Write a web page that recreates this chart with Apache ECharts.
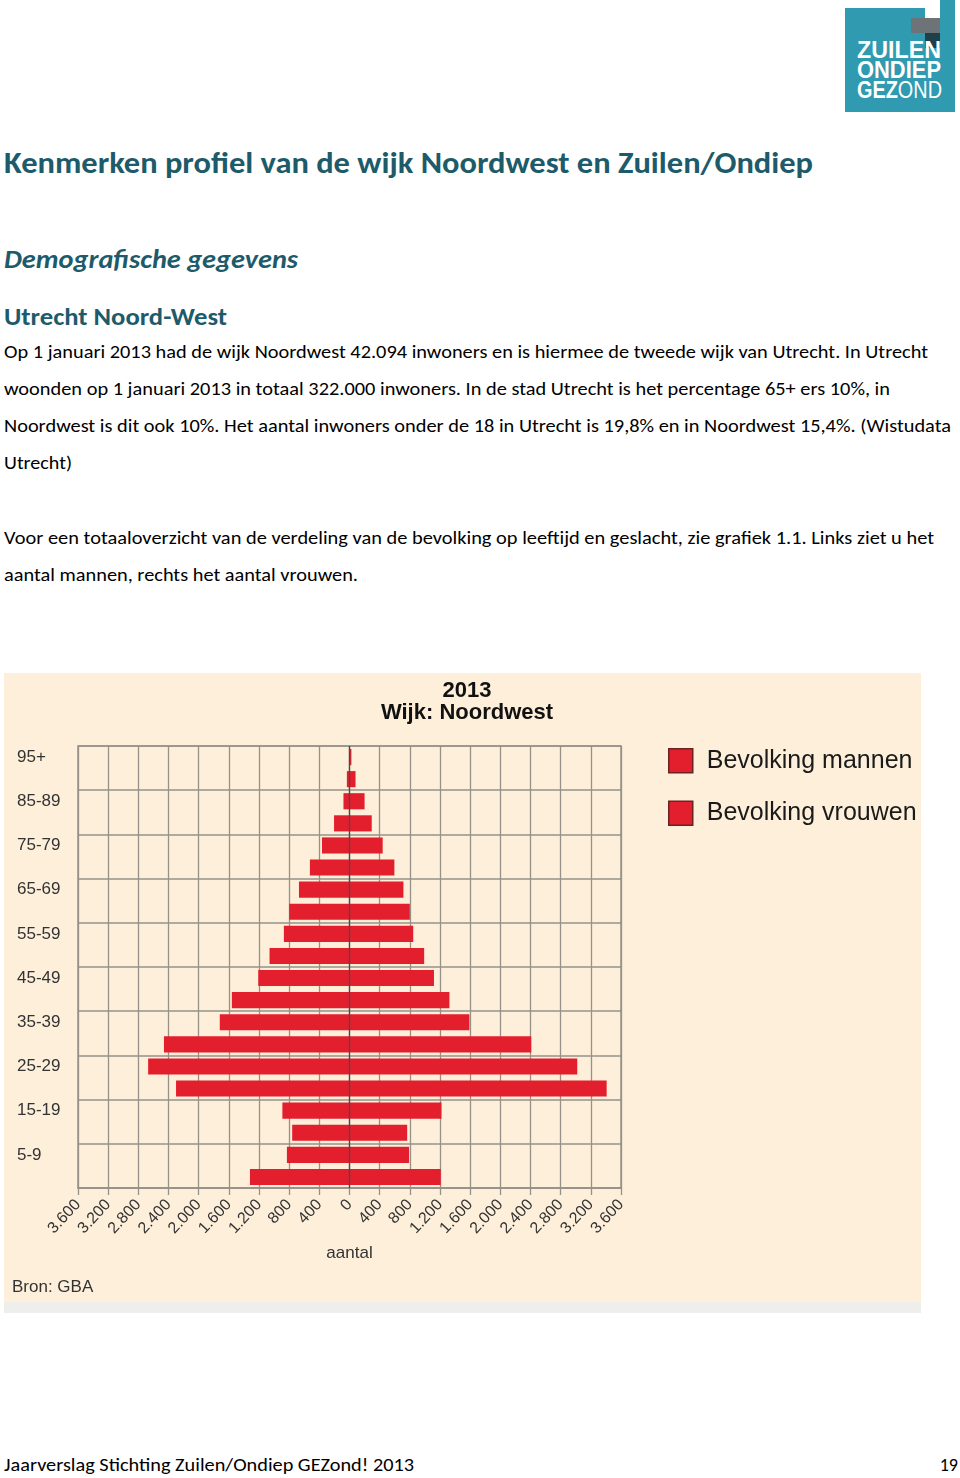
<!DOCTYPE html>
<html>
<head>
<meta charset="utf-8">
<script src="https://cdn.jsdelivr.net/npm/echarts@6/dist/echarts.min.js"></script>
<style>
  html, body { margin: 0; padding: 0; background: #ffffff; }
  body { width: 960px; height: 1478px; position: relative; overflow: hidden; font-family: 'Carlito', 'Lato', 'Open Sans', sans-serif; }
  .ln { position: absolute; left: 4px; white-space: nowrap; transform-origin: 0 50%; color: #000; }
  .h { color: #1d5b6b; font-weight: bold; }
  #chart { position: absolute; left: 4px; top: 673px; width: 917px; height: 629px; }
  #strip { position: absolute; left: 4px; top: 1302px; width: 917px; height: 11px; background: #eeeeec; }
  .logo { position: absolute; }
  .lt { position: absolute; left: 857px; color: #fff; font-family: 'Liberation Sans', Arial, sans-serif; font-weight: bold; white-space: nowrap; transform-origin: 0 50%; line-height: 20px; height: 20px; font-size: 24px; }
</style>
</head>
<body>
<!-- logo -->
<div class="logo" style="left:845px;top:8px;width:110px;height:104px;background:#2f9ab0;"></div>
<div class="logo" style="left:925px;top:0px;width:15px;height:18px;background:#fff;"></div>
<div class="logo" style="left:940px;top:0px;width:15px;height:15px;background:#2f9ab0;"></div>
<div class="logo" style="left:911px;top:18px;width:29px;height:15px;background:#6e7377;"></div>
<div class="logo" style="left:925px;top:33px;width:15px;height:15px;background:#1f3f49;"></div>
<div class="lt" data-w="84" style="top:40px;">ZUILEN</div>
<div class="lt" data-w="84" style="top:60px;">ONDIEP</div>
<div class="lt" data-w="85" style="top:80px;">GEZ<span style="font-weight:normal">OND</span></div>

<div class="ln h" data-w="809" style="top:142px;height:40px;line-height:40px;font-size:31px;">Kenmerken profiel van de wijk Noordwest en Zuilen/Ondiep</div>
<div class="ln h" data-w="294" style="top:243px;height:32px;line-height:32px;font-size:26px;font-style:italic;">Demografische gegevens</div>
<div class="ln h" data-w="223" style="top:302px;height:30px;line-height:30px;font-size:24px;">Utrecht Noord-West</div>

<div class="ln" data-w="924" style="top:340px;height:24px;line-height:24px;font-size:18px;">Op 1 januari 2013 had de wijk Noordwest 42.094 inwoners en is hiermee de tweede wijk van Utrecht. In Utrecht</div>
<div class="ln" data-w="886" style="top:377px;height:24px;line-height:24px;font-size:18px;">woonden op 1 januari 2013 in totaal 322.000 inwoners. In de stad Utrecht is het percentage 65+ ers 10%, in</div>
<div class="ln" data-w="947" style="top:414px;height:24px;line-height:24px;font-size:18px;">Noordwest is dit ook 10%. Het aantal inwoners onder de 18 in Utrecht is 19,8% en in Noordwest 15,4%. (Wistudata</div>
<div class="ln" data-w="68" style="top:451px;height:24px;line-height:24px;font-size:18px;">Utrecht)</div>
<div class="ln" data-w="930" style="top:526px;height:24px;line-height:24px;font-size:18px;">Voor een totaaloverzicht van de verdeling van de bevolking op leeftijd en geslacht, zie grafiek 1.1. Links ziet u het</div>
<div class="ln" data-w="354" style="top:563px;height:24px;line-height:24px;font-size:18px;">aantal mannen, rechts het aantal vrouwen.</div>

<div id="chart"></div>
<div id="strip"></div>

<div class="ln" data-w="410" style="top:1453px;height:24px;line-height:24px;font-size:18px;">Jaarverslag Stichting Zuilen/Ondiep GEZond! 2013</div>
<div style="position:absolute;right:2px;top:1453px;height:24px;line-height:24px;font-size:18px;color:#000;">19</div>

<script>
// ---- data ----
const ageGroups = ['0-4','5-9','10-14','15-19','20-24','25-29','30-34','35-39','40-44','45-49',
                   '50-54','55-59','60-64','65-69','70-74','75-79','80-84','85-89','90-94','95+'];
const men   = [1320, 830, 760, 890, 2300, 2670, 2460, 1720, 1560, 1210, 1060, 870, 800, 670, 525, 365, 205, 80, 35, 5];
const women = [1210, 790, 765, 1220, 3410, 3020, 2410, 1590, 1325, 1120, 990, 845, 800, 715, 595, 440, 295, 200, 80, 25];
const seriesNames = ['Bevolking mannen', 'Bevolking vrouwen'];
const chartTitle = '2013\nWijk: Noordwest';
const axisName = 'aantal';
const sourceText = 'Bron: GBA';

// ---- fit text lines ----
function fitLines() {
  document.querySelectorAll('[data-w]').forEach(el => {
    el.style.transform = 'none';
    const w = el.getBoundingClientRect().width;
    const target = parseFloat(el.getAttribute('data-w'));
    if (w > 0) el.style.transform = 'scaleX(' + (target / w) + ')';
  });
}
fitLines();
if (document.fonts && document.fonts.ready) document.fonts.ready.then(fitLines);

// ---- chart ----
const RED = '#e31f2e';
const GRID = '#96928a';
const sans = "'Liberation Sans', Arial, sans-serif";

function fmt(v) {
  const a = Math.abs(v);
  return a >= 1000 ? Math.floor(a / 1000) + '.' + String(a % 1000).padStart(3, '0') : String(a);
}

const chart = echarts.init(document.getElementById('chart'), null, { renderer: 'canvas' });
chart.setOption({
  backgroundColor: '#fdefda',
  animation: false,
  title: {
    text: chartTitle,
    left: 458, top: 2, textAlign: 'center',
    textStyle: { fontFamily: sans, fontWeight: 'bold', fontSize: 22, lineHeight: 22, color: '#111' }
  },
  legend: {
    orient: 'vertical', left: 664, top: 75, padding: 0, itemGap: 27,
    itemWidth: 24, itemHeight: 24, icon: 'rect',
    itemStyle: { borderColor: '#6a2222', borderWidth: 1.5 },
    textStyle: { fontFamily: sans, fontSize: 25, color: '#1a1a1a', padding: [0, 0, 0, 9] },
    data: seriesNames
  },
  grid: { left: 74, right: 300, top: 73, bottom: 114, show: true, borderColor: GRID, borderWidth: 1.5, containLabel: false },
  xAxis: {
    type: 'value', min: -3600, max: 3600, interval: 400,
    name: axisName, nameLocation: 'middle', nameGap: 57,
    nameTextStyle: { fontFamily: sans, fontSize: 17, color: '#333' },
    axisLine: { show: true, lineStyle: { color: GRID, width: 1.5 } },
    axisTick: { show: true, length: 7, lineStyle: { color: GRID, width: 1.3 } },
    splitLine: { show: true, lineStyle: { color: GRID, width: 1.3 } },
    axisLabel: {
      rotate: 47, margin: 14, formatter: fmt,
      fontFamily: sans, fontSize: 16, color: '#333'
    }
  },
  yAxis: {
    type: 'category', data: ageGroups,
    axisLine: { show: false },
    axisTick: { show: false },
    splitLine: { show: true, interval: 1, lineStyle: { color: GRID, width: 1.5 } },
    axisLabel: {
      interval: (i) => i % 2 === 1,
      align: 'left', margin: 61,
      fontFamily: sans, fontSize: 17, color: '#333'
    }
  },
  graphic: [{
    type: 'text', left: 8, top: 606,
    style: { text: sourceText, fontFamily: sans, fontSize: 17, fill: '#333' }
  }],
  series: [
    {
      name: seriesNames[0], type: 'bar', stack: 'pop', barCategoryGap: '27%',
      itemStyle: { color: RED },
      data: men.map(v => -v),
      markLine: {
        silent: true, symbol: 'none', label: { show: false },
        lineStyle: { color: '#4a4a4a', width: 1.3, type: 'solid' },
        data: [{ xAxis: 0 }], z: 10
      }
    },
    {
      name: seriesNames[1], type: 'bar', stack: 'pop', barCategoryGap: '27%',
      itemStyle: { color: RED },
      data: women
    }
  ]
});
</script>
</body>
</html>
